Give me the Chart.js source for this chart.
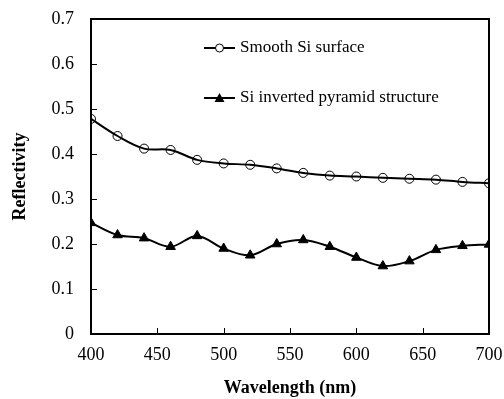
<!DOCTYPE html>
<html>
<head>
<meta charset="utf-8">
<script src="https://cdn.jsdelivr.net/npm/chart.js@4/dist/chart.umd.min.js"></script>
<style>
  html, body { margin: 0; padding: 0; background: #fff; }
  #wrap { width: 504px; height: 399px; position: relative; }
</style>
</head>
<body>
<div id="wrap"><canvas id="c" width="504" height="399"></canvas></div>
<script>
// Wavelength samples (nm)
const wavelengths = [400, 420, 440, 460, 480, 500, 520, 540, 560, 580, 600, 620, 640, 660, 680, 700];
// Reflectivity of the plain silicon surface
const smoothSi = [0.478, 0.44, 0.412, 0.409, 0.387, 0.379, 0.376, 0.368, 0.358, 0.352, 0.350, 0.347, 0.345, 0.343, 0.338, 0.335];
// Reflectivity of the inverted pyramid texture
const pyramidSi = [0.247, 0.220, 0.213, 0.194, 0.218, 0.190, 0.175, 0.200, 0.209, 0.194, 0.170, 0.151, 0.162, 0.187, 0.196, 0.199];
// Axis ticks
const xTicks = [400, 450, 500, 550, 600, 650, 700];
const yTicks = [0, 0.1, 0.2, 0.3, 0.4, 0.5, 0.6, 0.7];
const seriesNames = ['Smooth Si surface', 'Si inverted pyramid structure'];

const SERIF = '"Liberation Serif", "Times New Roman", serif';

// Frame, inward tick marks and in-plot legend
const framePlugin = {
  id: 'frame',
  afterDraw(chart) {
    const ctx = chart.ctx;
    const a = chart.chartArea;
    const xs = chart.scales.x, ys = chart.scales.y;
    ctx.save();
    ctx.strokeStyle = '#000';
    ctx.lineWidth = 2;
    ctx.strokeRect(a.left, a.top, a.right - a.left, a.bottom - a.top);
    ctx.lineWidth = 1;
    ctx.beginPath();
    yTicks.forEach(v => {
      const y = Math.round(ys.getPixelForValue(v)) + 0.5;
      ctx.moveTo(a.left, y); ctx.lineTo(a.left + 6, y);
    });
    xTicks.forEach(v => {
      const x = Math.round(xs.getPixelForValue(v)) + 0.5;
      ctx.moveTo(x, a.bottom); ctx.lineTo(x, a.bottom - 6);
    });
    ctx.stroke();

    // legend
    const lx0 = 204, lx1 = 235, rows = [48, 98];
    chart.data.datasets.forEach((ds, i) => {
      const y = rows[i];
      ctx.strokeStyle = '#000';
      ctx.lineWidth = 2;
      ctx.beginPath(); ctx.moveTo(lx0, y); ctx.lineTo(lx1, y); ctx.stroke();
      const cx = (lx0 + lx1) / 2;
      ctx.lineWidth = 1;
      if (ds.pointStyle === 'circle') {
        ctx.fillStyle = '#fff';
        ctx.beginPath(); ctx.arc(cx, y, 4, 0, Math.PI * 2); ctx.fill(); ctx.stroke();
      } else {
        ctx.fillStyle = '#000';
        ctx.beginPath();
        ctx.moveTo(cx, y - 5); ctx.lineTo(cx + 5, y + 4); ctx.lineTo(cx - 5, y + 4);
        ctx.closePath(); ctx.fill();
      }
      ctx.fillStyle = '#000';
      ctx.font = '17px ' + SERIF;
      ctx.textBaseline = 'middle';
      ctx.textAlign = 'left';
      ctx.fillText(ds.label, 240, y);
    });
    ctx.restore();
  }
};

// keep tick-label overhang from shrinking the plot area
function noOverhang(s) {
  s.paddingTop = 0; s.paddingBottom = 0; s.paddingLeft = 0; s.paddingRight = 0;
}

new Chart(document.getElementById('c'), {
  type: 'line',
  data: {
    datasets: [
      {
        label: seriesNames[0],
        data: wavelengths.map((w, i) => ({ x: w, y: smoothSi[i] })),
        borderColor: '#000', borderWidth: 2,
        pointStyle: 'circle', pointRadius: 4.5,
        pointBackgroundColor: 'rgba(255,255,255,0)', pointBorderColor: '#000', pointBorderWidth: 1,
        tension: 0.35
      },
      {
        label: seriesNames[1],
        data: wavelengths.map((w, i) => ({ x: w, y: pyramidSi[i] })),
        borderColor: '#000', borderWidth: 2,
        pointStyle: 'triangle', pointRadius: 5.5,
        pointBackgroundColor: '#000', pointBorderColor: '#000', pointBorderWidth: 1,
        tension: 0.35
      }
    ]
  },
  options: {
    responsive: false,
    animation: false,
    layout: { padding: { top: 19, right: 15, left: 0, bottom: 0 } },
    plugins: { legend: { display: false }, tooltip: { enabled: false } },
    scales: {
      x: {
        type: 'linear', min: 400, max: 700,
        afterBuildTicks(s) { s.ticks = xTicks.map(v => ({ value: v })); },
        afterFit(s) { s.height = 65; noOverhang(s); },
        grid: { display: false, drawTicks: false },
        border: { display: false },
        ticks: { color: '#000', font: { family: SERIF, size: 18 }, padding: 10, maxRotation: 0 },
        title: { display: true, text: 'Wavelength (nm)', color: '#000',
                 font: { family: SERIF, size: 18, weight: 'bold' }, padding: { top: 4, bottom: 0 } }
      },
      y: {
        min: 0, max: 0.7,
        afterBuildTicks(s) { s.ticks = yTicks.map(v => ({ value: v })); },
        afterFit(s) { s.width = 91; noOverhang(s); },
        grid: { display: false, drawTicks: false },
        border: { display: false },
        ticks: { color: '#000', font: { family: SERIF, size: 18 }, padding: 17,
                 callback: v => (v === 0 ? '0' : v.toFixed(1)) },
        title: { display: true, text: 'Reflectivity', color: '#000',
                 font: { family: SERIF, size: 18, weight: 'bold' }, padding: { top: 10, bottom: 0 } }
      }
    }
  },
  plugins: [framePlugin]
});
</script>
</body>
</html>
